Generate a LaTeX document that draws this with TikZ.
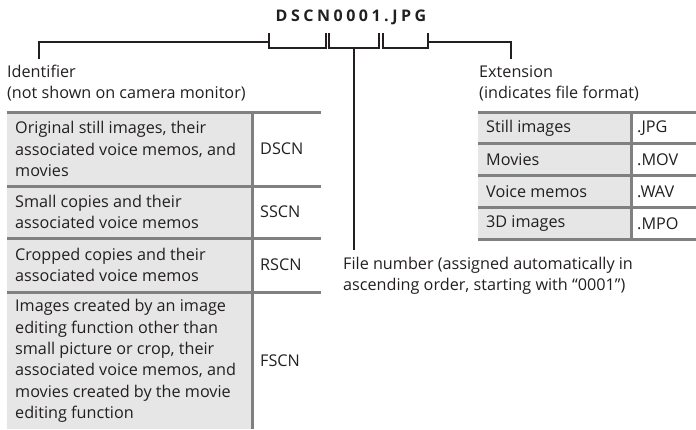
\documentclass[tikz,border=0pt]{standalone}
\usepackage{fontspec}
\setmainfont{Open Sans}
\definecolor{txt}{HTML}{231F20}
\definecolor{rulec}{HTML}{808080}
\definecolor{cellfill}{HTML}{E6E6E6}
\begin{document}
\begin{tikzpicture}[x=1pt,y=-1pt,
  lbl/.style={font=\fontsize{16.2}{21.3}\selectfont, text=txt, inner sep=0pt, anchor=west, align=left},
  cell/.style={lbl},
  brk/.style={line width=2pt, draw=txt},
  tabrule/.style={line width=3pt, draw=rulec},
  lead/.style={line width=2pt, draw=txt}]
\useasboundingbox (0,0) rectangle (696,429);

% title
\node[inner sep=0pt, text=txt, font=\fontsize{16}{18}\selectfont\bfseries\addfontfeature{LetterSpace=22}] (title) at (351,17) {DSCN0001.JPG};

% bracket coordinates
\coordinate (b1l) at (269,33); \coordinate (b1r) at (326,33);
\coordinate (b2l) at (329,33); \coordinate (b2r) at (379,33);
\coordinate (b3l) at (383,33); \coordinate (b3r) at (428,33);
\coordinate (b2m) at (354,48);
\coordinate (idtop) at (39,59);
\coordinate (extop) at (511,59);
\coordinate (fnend) at (354,250);

\draw[brk] (b1l) -- ++(0,15) -| (b1r);
\draw[brk] (b2l) -- ++(0,15) -| (b2r);
\draw[brk] (b3l) -- ++(0,15) -| (b3r);
\draw[lead] (idtop) |- (269,42);
\draw[lead] (extop) |- (428,42);
\draw[lead] (b2m) -- (fnend);

% labels
\node[lbl] (ident) at (7,83) {Identifier\\(not shown on camera monitor)};
\node[lbl] (ext) at (479,83) {Extension\\(indicates file format)};
\node[lbl] (fnum) at (343,276) {File number (assigned automatically in\\ascending order, starting with “0001”)};

% left table
\fill[cellfill] (7,112) rectangle (252,429);
\draw[tabrule] (252,112) -- (252,429);
\foreach \y in {112,186,238,292} \draw[tabrule] (7,\y) -- (321,\y);
\node[cell] (l1) at (15,149) {Original still images, their\\associated voice memos, and\\movies};
\node[cell] (c1) at (260,149) {DSCN};
\node[cell] (l2) at (15,212) {Small copies and their\\associated voice memos};
\node[cell] (c2) at (260,212) {SSCN};
\node[cell] (l3) at (15,265) {Cropped copies and their\\associated voice memos};
\node[cell] (c3) at (260,265) {RSCN};
\node[cell] (l4) at (15,361) {Images created by an image\\editing function other than\\small picture or crop, their\\associated voice memos, and\\movies created by the movie\\editing function};
\node[cell] (c4) at (260,361) {FSCN};

% right table
\fill[cellfill] (478,112) rectangle (631,239.5);
\draw[tabrule] (631,112) -- (631,239.5);
\foreach \y in {112,143.5,175.5,207.5,239.5} \draw[tabrule] (478,\y) -- (696,\y);
\node[cell] (r1) at (486,128) {Still images};
\node[cell] (e1) at (637,128) {.JPG};
\node[cell] (r2) at (486,159.5) {Movies};
\node[cell] (e2) at (637,159.5) {.MOV};
\node[cell] (r3) at (486,191.5) {Voice memos};
\node[cell] (e3) at (637,191.5) {.WAV};
\node[cell] (r4) at (486,223.5) {3D images};
\node[cell] (e4) at (637,223.5) {.MPO};
\end{tikzpicture}
\end{document}
